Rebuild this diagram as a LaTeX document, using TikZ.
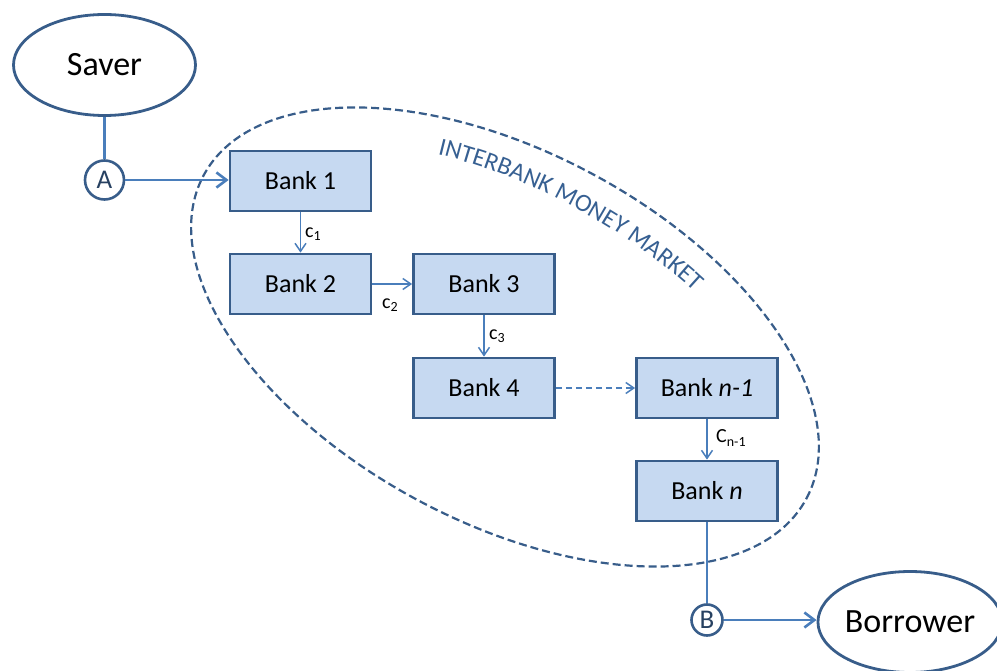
\documentclass[tikz,border=0pt]{standalone}
\usepackage{fontspec}
\setmainfont{Carlito}
\usetikzlibrary{arrows.meta,shapes.geometric,decorations.text}
\definecolor{bankfill}{HTML}{C6D9F1}
\definecolor{bankline}{HTML}{385D8A}
\definecolor{flow}{HTML}{4A7EBB}
\definecolor{marketblue}{HTML}{376092}
\begin{document}
\begin{tikzpicture}[x=1pt,y=-1pt,
  bank/.style={draw=bankline, fill=bankfill, line width=2.8pt, minimum width=141pt,
    minimum height=60pt, inner sep=0pt, font=\fontsize{26}{26}\selectfont},
  agent/.style={ellipse, draw=bankline, line width=2.8pt, minimum width=182pt,
    minimum height=101pt, inner sep=0pt, font=\fontsize{34}{34}\selectfont},
  gate/.style={circle, draw=bankline, line width=2.6pt, inner sep=0pt,
    text=bankline!70!black, font=\fontsize{27}{27}\selectfont},
  mainflow/.style={draw=flow, line width=2.8pt},
  mainarrow/.style={mainflow, -{Straight Barb[length=10pt,width=15pt,line width=2.6pt]}},
  chain/.style={draw=flow, line width=1.5pt, -{Straight Barb[length=8pt,width=11pt,line width=1.5pt]}},
  lbl/.style={anchor=west, inner sep=0pt, font=\fontsize{20}{20}\selectfont}
]
\useasboundingbox (0,0) rectangle (997,671);

% interbank market boundary and its curved caption
\begin{scope}[shift={(505,337)}, rotate=-28.2]
  \draw[draw=bankline, line width=2.2pt, dash pattern=on 8pt off 4pt]
    (0pt,0pt) ellipse [x radius=342pt, y radius=185pt];
  \path[decorate, decoration={text along path, text align=center,
      text={|\fontsize{25}{25}\selectfont\color{marketblue}|INTERBANK MONEY MARKET}}]
    (160:305pt and 147pt) arc[start angle=160, end angle=20, x radius=305pt, y radius=147pt];
\end{scope}

% agents
\node[agent] (saver) at (104.5,65) {Saver};
\node[agent] (borrower) at (910,622) {Borrower};

% entry and exit points
\node[gate, minimum size=39pt] (A) at (104.5,180) {A};
\node[gate, minimum size=31pt] (B) at (707,620) {B};

% banks
\node[bank] (b1) at (300.5,181) {Bank 1};
\node[bank] (b2) at (300.5,284) {Bank 2};
\node[bank] (b3) at (484,284) {Bank 3};
\node[bank] (b4) at (484,388) {Bank 4};
\node[bank] (bn1) at (707,388) {Bank \textit{n-1}};
\node[bank] (bn) at (707,491) {Bank \textit{n}};

% main flow
\draw[mainflow] (saver.south) -- (A.north);
\draw[mainarrow] (A.east) -- (A.east -| b1.west);
\draw[mainflow] (bn.south) -- (B.north);
\draw[mainarrow] (B.east) -- (B.east -| borrower.west);

% interbank chain
\draw[chain] (b1.south) -- (b2.north);
\draw[chain] (b2.east) -- (b3.west);
\draw[chain] (b3.south) -- (b4.north);
\draw[chain, dash pattern=on 6pt off 4pt] (b4.east) -- (bn1.west);
\draw[chain] (bn1.south) -- (bn.north);

% chain labels
\node[lbl] (l1) at (305,234) {c\textsubscript{1}};
\node[lbl] (l2) at (382,305) {c\textsubscript{2}};
\node[lbl] (l3) at (489,336) {c\textsubscript{3}};
\node[lbl] (ln) at (716,438) {C\textsubscript{n-1}};
\end{tikzpicture}
\end{document}
